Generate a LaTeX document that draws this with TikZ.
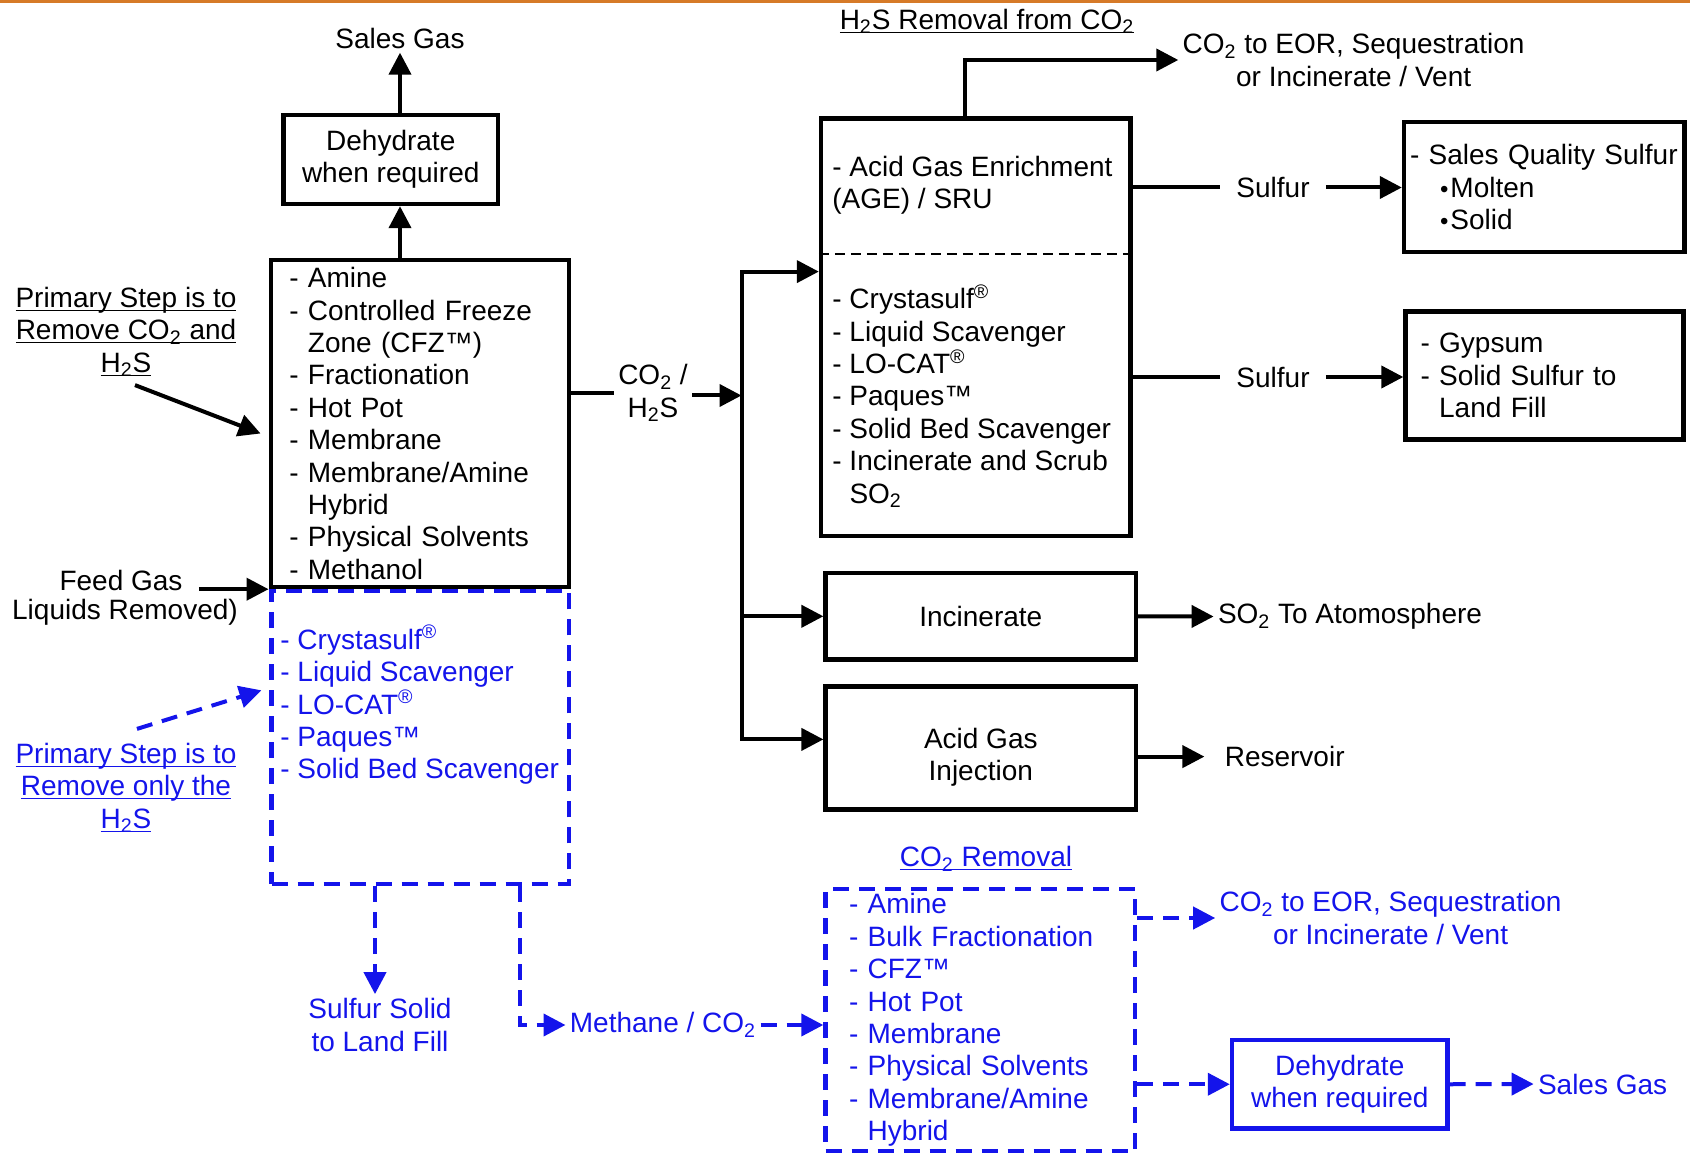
\documentclass[tikz,border=0pt]{standalone}
\usepackage{fontspec}
\setmainfont{Liberation Sans}
\usepackage{xcolor}
\usetikzlibrary{arrows.meta, positioning, calc}

\definecolor{procblue}{RGB}{20,20,235}
\definecolor{topbar}{RGB}{214,122,40}

\newcommand{\cotwo}{CO\textsubscript{2}}
\newcommand{\hhs}{H\textsubscript{2}S}
\newcommand{\sotwo}{SO\textsubscript{2}}
\newcommand{\regd}{\textsuperscript{\textregistered}}
\newcommand{\tmk}{\texttrademark}
\newcommand{\wrapind}{\hphantom{- }}
\newcommand{\titleline}[1]{\vphantom{#1}\underline{\smash{#1}}}
\newcommand{\dotitem}{\hspace*{15pt}{\large\textbullet}\hspace{1pt}}

\tikzset{
    txt/.style={font=\fontsize{14}{16.2}\selectfont, inner sep=2pt, align=center},
    lst/.style={txt, align=left, inner sep=0pt},
    blackbox/.style={draw, line width=2.2pt, txt},
    bluebox/.style={draw=procblue, line width=2.2pt, dash pattern=on 8pt off 5pt},
    conn/.style={line width=2pt},
    flow/.style={conn, -{Triangle[length=11pt,width=11pt]}},
    blueflow/.style={flow, procblue, dash pattern=on 8pt off 5pt}
}

\begin{document}
\begin{tikzpicture}[x=0.5pt, y=-0.5pt]
    \useasboundingbox (0,0) rectangle (1690,1154);
    \fill[topbar] (0,0) rectangle (1690,3);

    % Rimozione di CO2 e H2S (blocco principale)
    \node[bluebox, minimum width=148.7pt, minimum height=146.7pt] (h2sonly) at (420.3,737.3) {};
    \node[blackbox, fill=white, align=left, minimum width=149.25pt, minimum height=163.5pt,
          text width=130.75pt, inner xsep=9.25pt, inner ysep=0pt] (capture) at (420,423.5)
        {- Amine\\- Controlled Freeze\\\wrapind Zone (CFZ\tmk)\\- Fractionation\\- Hot Pot\\- Membrane\\- Membrane/Amine\\\wrapind Hybrid\\- Physical Solvents\\- Methanol};
    \node[lst, text=procblue, anchor=west] (h2slist) at (280,705)
        {- Crystasulf\regd\\- Liquid Scavenger\\- LO-CAT\regd\\- Paques\tmk\\- Solid Bed Scavenger};

    % Disidratazione e gas di vendita
    \node[blackbox, minimum width=107.25pt, minimum height=44.5pt] (dehyd) at (390.75,159.5) {Dehydrate\\when required};
    \node[txt] (salesgas) at (400,38) {Sales Gas};
    \draw[flow] (capture.north -| salesgas) -- (dehyd.south -| salesgas);
    \draw[flow] (dehyd.north -| salesgas) -- (salesgas.south);

    % Etichette a sinistra
    \node[txt] (stepone) at (126,332) {\titleline{Primary Step is to}\\\titleline{Remove \cotwo{} and}\\\titleline{\hhs}};
    \draw[flow] ($(stepone.south)+(9,4)$) -- ($(capture.west)+(-8,10)$);
    \node[txt, inner xsep=8pt] (feed) at (121,580) {Feed Gas};
    \node[txt] (feednote) at (125,612) {Liquids Removed)};
    \draw[flow] (feed.east |- capture.south west) -- (capture.south west);
    \node[txt, text=procblue] (steptwo) at (126,788) {\titleline{Primary Step is to}\\\titleline{Remove only the}\\\titleline{\hhs}};
    \draw[blueflow] ($(steptwo.north)+(11,-10)$) -- ($(h2sonly.west)+(-8,-47)$);

    % Uscite del blocco blu
    \node[txt, text=procblue] (landfill) at (380,1025) {Sulfur Solid\\to Land Fill};
    \coordinate (tapa) at ($(h2sonly.south)+(-45.3,0)$);
    \draw[blueflow] (tapa) -- (tapa |- landfill.north);
    \node[txt, text=procblue] (methane) at (663,1025) {Methane / \cotwo};
    \coordinate (tapb) at ($(h2sonly.south)+(99.2,0)$);
    \draw[blueflow] (tapb) |- (methane.west);

    % Rimozione della CO2
    \node[txt, text=procblue] (co2title) at (986,859) {\titleline{\cotwo{} Removal}};
    \node[bluebox, txt, text=procblue, align=left, minimum width=154.75pt, minimum height=131pt,
          text width=131.25pt, inner xsep=11.75pt, inner ysep=0pt] (co2rem) at (980.25,1020)
        {- Amine\\- Bulk Fractionation\\- CFZ\tmk\\- Hot Pot\\- Membrane\\- Physical Solvents\\- Membrane/Amine\\\wrapind Hybrid};
    \draw[blueflow] (methane.east) -- (methane.east -| co2rem.west);
    \node[txt, text=procblue] (co2dest) at (1390.5,918) {\cotwo{} to EOR, Sequestration\\or Incinerate / Vent};
    \draw[blueflow] (co2rem.east |- co2dest.west) -- (co2dest.west);
    \node[txt, draw=procblue, line width=2.2pt, text=procblue, minimum width=107.75pt, minimum height=44.25pt] (bluedehyd) at (1339.75,1084.25) {Dehydrate\\when required};
    \draw[blueflow] (co2rem.east |- bluedehyd.west) -- (bluedehyd.west);
    \node[txt, text=procblue] (bluesales) at (1602.6,1084) {Sales Gas};
    \draw[blueflow] (bluedehyd.east) -- (bluesales.west);

    % Rimozione di H2S dalla CO2
    \node[txt] (h2stitle) at (987,21.5) {\titleline{\hhs{} Removal from \cotwo}};
    \node[blackbox, minimum width=154.8pt, minimum height=208.6pt] (sru) at (975.8,327.1) {};
    \draw[dash pattern=on 5pt off 3pt, line width=1.2pt] (sru.west |- 0,254) -- (sru.east |- 0,254);
    \node[lst, anchor=west] (srutop) at (832,185) {- Acid Gas Enrichment\\(AGE) / SRU};
    \node[lst, anchor=west] (srulist) at (832,396)
        {- Crystasulf\regd\\- Liquid Scavenger\\- LO-CAT\regd\\- Paques\tmk\\- Solid Bed Scavenger\\- Incinerate and Scrub\\\wrapind\sotwo};
    \node[txt] (co2eor) at (1353.6,60) {\cotwo{} to EOR, Sequestration\\or Incinerate / Vent};
    \draw[flow] ($(sru.north)+(-11.2,0)$) |- (co2eor.west);

    % Zolfo
    \node[txt, inner xsep=8pt] (sulfura) at (1273,187.5) {Sulfur};
    \node[txt, inner xsep=8pt] (sulfurb) at (1273,377) {Sulfur};
    \node[blackbox, align=left, minimum width=140.3pt, minimum height=65pt, text width=134.3pt,
          inner xsep=3pt, inner ysep=0pt] (salesq) at (1544.3,187)
        {- Sales Quality Sulfur\\\dotitem Molten\\\dotitem Solid};
    \node[blackbox, align=left, minimum width=139pt, minimum height=64.1pt, text width=124pt,
          inner xsep=7.5pt, inner ysep=0pt] (gypsum) at (1544.5,375.6)
        {- Gypsum\\- Solid Sulfur to\\\wrapind Land Fill};
    \draw[conn] (sru.east |- sulfura) -- (sulfura.west);
    \draw[flow] (sulfura.east) -- (sulfura.east -| salesq.west);
    \draw[conn] (sru.east |- sulfurb) -- (sulfurb.west);
    \draw[flow] (sulfurb.east) -- (sulfurb.east -| gypsum.west);

    % Gas acido verso le tre destinazioni
    \node[txt] (acidgas) at (653,393) {\cotwo{} /\\\hhs};
    \coordinate (trunk) at (741.5,395.5);
    \node[blackbox, minimum width=155.2pt, minimum height=43.3pt] (incin) at (980.8,616.3) {Incinerate};
    \node[blackbox, minimum width=155.2pt, minimum height=61.4pt] (agi) at (980.8,748) {};
    \node[txt] (agitxt) at (980.8,757) {Acid Gas\\Injection};
    \draw[conn] (capture.east |- acidgas) -- (acidgas.west);
    \draw[flow] (acidgas.east |- trunk) -- (trunk);
    \foreach \dst/\dy in {sru/-55.5, incin/0, agi/-8.6}{
        \draw[flow] (trunk) |- ($(\dst.west)+(0,\dy)$);
    }
    \node[txt] (so2) at (1350,616.5) {\sotwo{} To Atomosphere};
    \draw[flow] (incin.east) -- (so2.west);
    \node[txt] (reservoir) at (1284.7,756.6) {Reservoir};
    \draw[flow] (agi.east |- reservoir) -- ($(reservoir.west)+(-16,0)$);
\end{tikzpicture}
\end{document}
